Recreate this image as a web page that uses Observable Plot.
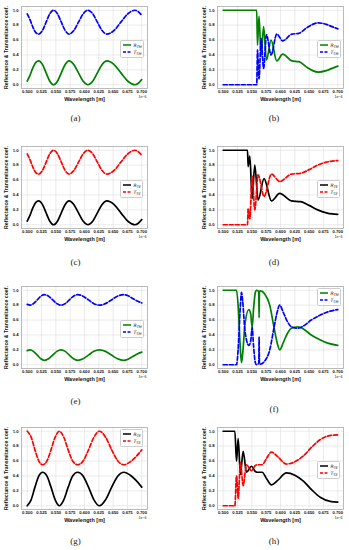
<!DOCTYPE html>
<html>
<head>
<meta charset="utf-8">
<script src="https://cdn.jsdelivr.net/npm/d3@7"></script>
<script src="https://cdn.jsdelivr.net/npm/@observablehq/plot@0.6"></script>
<style>
  body { margin: 0; background: #fff; }
  #fig { position: relative; width: 349px; height: 550px; overflow: hidden; background: #fff; }
  .panel { position: absolute; }
  .panel svg { display: block; overflow: visible; }
  .panel g[aria-label="x-axis tick label"], .panel g[aria-label="y-axis tick label"] { font-size: 4.2px; font-weight: bold; }
  .panel g[aria-label="x-axis label"] { font-size: 5.5px; font-weight: bold; }
  .panel g[aria-label="y-axis label"] { font-size: 5.2px; font-weight: bold; }
  .legend { position: absolute; background: rgba(255,255,255,0.9); border: 0.6px solid #ccc; border-radius: 1.5px;
            padding: 1px 1.5px; font-family: "DejaVu Sans", sans-serif; font-size: 4.6px; line-height: 7px; }
  .legend .row { display: flex; align-items: center; height: 7px; white-space: nowrap; }
  .legend svg { margin-right: 3px; }
  .legend i { font-style: italic; }
  .legend sub { font-size: 3.4px; font-style: italic; vertical-align: -1px; line-height: 0; }
  .lab { position: absolute; transform: translate(-50%, -50%); font-family: "Liberation Serif", "DejaVu Serif", serif; font-size: 9px; color: #222; }
</style>
</head>
<body>
<div id="fig"></div>
<script>
// ---- tick labels ----
const xTicks = [0.500, 0.525, 0.550, 0.575, 0.600, 0.625, 0.650, 0.675, 0.700];
const yTicks = [0.0, 0.2, 0.4, 0.6, 0.8, 1.0];

// ---- (a) TM, thin film ----
const xA = [0.500,0.505,0.510,0.515,0.520,0.5265,0.533,0.5395,0.546,0.5528,0.5595,0.5663,0.573,0.5813,0.5895,0.5978,0.606,0.6143,0.6225,0.6308,0.639,0.6513,0.6635,0.6758,0.688,0.694,0.700];
const rA = [0.05,0.13,0.23,0.30,0.32,0.273,0.16,0.047,0.0,0.047,0.16,0.273,0.32,0.273,0.16,0.047,0.0,0.047,0.16,0.273,0.32,0.273,0.16,0.047,0.0,0.02,0.07];
const tA = [0.95,0.87,0.77,0.70,0.68,0.727,0.84,0.953,1.0,0.953,0.84,0.727,0.68,0.727,0.84,0.953,1.0,0.953,0.84,0.727,0.68,0.727,0.84,0.953,1.0,0.98,0.93];

// ---- (b) TM ----
const xB = [0.500,0.5585,0.5598,0.5625,0.5662,0.5705,0.5755,0.5835,0.5935,0.6038,0.6200,0.6320,0.6450,0.6560,0.6660,0.6800,0.6900,0.7000];
const rB = [1.00,1.00,0.53,0.92,0.38,0.78,0.33,0.60,0.32,0.41,0.32,0.31,0.24,0.19,0.17,0.19,0.22,0.25];
const tB = [0.00,0.00,0.47,0.08,0.62,0.22,0.67,0.40,0.68,0.59,0.68,0.69,0.76,0.81,0.83,0.81,0.78,0.75];

// ---- (c) TE ----
const xC = [0.500,0.505,0.510,0.515,0.520,0.5265,0.533,0.5395,0.546,0.5528,0.5595,0.5663,0.573,0.5813,0.5895,0.5978,0.606,0.6143,0.6225,0.6308,0.639,0.6513,0.6635,0.6758,0.688,0.694,0.700];
const rC = [0.05,0.13,0.23,0.30,0.32,0.273,0.16,0.047,0.0,0.047,0.16,0.273,0.32,0.273,0.16,0.047,0.0,0.047,0.16,0.273,0.32,0.273,0.16,0.047,0.0,0.02,0.07];
const tC = [0.95,0.87,0.77,0.70,0.68,0.727,0.84,0.953,1.0,0.953,0.84,0.727,0.68,0.727,0.84,0.953,1.0,0.953,0.84,0.727,0.68,0.727,0.84,0.953,1.0,0.98,0.93];

// ---- (d) TE ----
const xD = [0.500,0.5424,0.5435,0.5464,0.5505,0.5551,0.5609,0.5713,0.5842,0.5986,0.6190,0.6350,0.6500,0.6650,0.6800,0.6900,0.7000];
const rD = [1.00,1.00,0.78,0.92,0.35,0.80,0.33,0.62,0.32,0.42,0.32,0.31,0.26,0.20,0.16,0.145,0.14];
const tD = [0.00,0.00,0.22,0.08,0.65,0.20,0.67,0.38,0.68,0.58,0.68,0.69,0.74,0.80,0.84,0.855,0.86];

// ---- (e) TM ----
const xE = [0.500,0.505,0.5108,0.5175,0.5238,0.530,0.5373,0.5445,0.5518,0.559,0.5663,0.5735,0.5808,0.588,0.5975,0.607,0.6165,0.626,0.6365,0.647,0.6575,0.668,0.676,0.684,0.692,0.700];
const rE = [0.19,0.20,0.18,0.13,0.08,0.06,0.08,0.13,0.18,0.20,0.18,0.13,0.08,0.06,0.08,0.13,0.18,0.20,0.18,0.13,0.08,0.06,0.075,0.11,0.145,0.17];
const tE = [0.81,0.80,0.82,0.87,0.92,0.94,0.92,0.87,0.82,0.80,0.82,0.87,0.92,0.94,0.92,0.87,0.82,0.80,0.82,0.87,0.92,0.94,0.925,0.89,0.855,0.83];

// ---- (f) TM ----
const xF = [0.500,0.5232,0.5260,0.5300,0.5319,0.5340,0.5380,0.5447,0.5480,0.5505,0.5530,0.5560,0.5580,0.5610,0.5621,0.5626,0.5632,0.5650,0.5725,0.5812,0.5887,0.5940,0.5986,0.6050,0.6120,0.6190,0.6304,0.6400,0.6537,0.6680,0.6826,0.7000];
const rF = [1.00,1.00,0.80,0.20,0.03,0.15,0.55,0.74,0.68,0.50,0.75,0.97,1.00,0.99,0.98,0.63,0.98,0.99,0.95,0.80,0.50,0.30,0.20,0.30,0.42,0.49,0.51,0.48,0.40,0.34,0.29,0.26];
const tF = [0.00,0.00,0.20,0.80,0.97,0.85,0.45,0.26,0.32,0.50,0.25,0.03,0.00,0.01,0.02,0.37,0.02,0.01,0.05,0.20,0.50,0.70,0.80,0.70,0.58,0.51,0.49,0.52,0.60,0.66,0.71,0.74];

// ---- (g) TE ----
const xG = [0.500,0.5068,0.5135,0.5203,0.527,0.5343,0.5415,0.5488,0.556,0.5638,0.5715,0.5793,0.588,0.5975,0.607,0.6165,0.626,0.6368,0.6475,0.6583,0.669,0.680,0.690,0.700];
const rG = [0.0,0.08,0.25,0.40,0.45,0.40,0.25,0.08,0.0,0.08,0.25,0.40,0.45,0.40,0.25,0.08,0.0,0.08,0.25,0.40,0.45,0.41,0.34,0.25];
const tG = [1.0,0.92,0.75,0.60,0.55,0.60,0.75,0.92,1.0,0.92,0.75,0.60,0.55,0.60,0.75,0.92,1.0,0.92,0.75,0.60,0.55,0.59,0.66,0.75];

// ---- (h) TE ----
const xH = [0.500,0.5203,0.5232,0.5261,0.5300,0.5348,0.5406,0.5493,0.5560,0.5600,0.5678,0.5760,0.5842,0.5950,0.6102,0.6250,0.6400,0.6550,0.6700,0.6885,0.7000];
const rH = [1.00,1.00,0.60,0.90,0.42,0.73,0.45,0.53,0.46,0.45,0.45,0.36,0.28,0.34,0.44,0.41,0.33,0.21,0.11,0.055,0.05];
const tH = [0.00,0.00,0.40,0.10,0.58,0.27,0.55,0.47,0.54,0.55,0.55,0.64,0.72,0.66,0.56,0.59,0.67,0.79,0.89,0.945,0.95];

const GREEN = "#008000", BLUE = "#0000ff", RED = "#ff0000", BLACK = "#000000";
const rowTops = [0, 140, 280, 421];

const panels = [
  {x: xA, r: rA, t: tA, col: 0, row: 0, rc: GREEN, tc: BLUE, sub: "TM", leg: "center", tag: "(a)", ty: 118},
  {x: xB, r: rB, t: tB, col: 1, row: 0, rc: GREEN, tc: BLUE, sub: "TM", leg: "center", tag: "(b)", ty: 118},
  {x: xC, r: rC, t: tC, col: 0, row: 1, rc: BLACK, tc: RED, sub: "TE", leg: "center", tag: "(c)", ty: 122},
  {x: xD, r: rD, t: tD, col: 1, row: 1, rc: BLACK, tc: RED, sub: "TE", leg: "center", tag: "(d)", ty: 122},
  {x: xE, r: rE, t: tE, col: 0, row: 2, rc: GREEN, tc: BLUE, sub: "TM", leg: "center", tag: "(e)", ty: 121},
  {x: xF, r: rF, t: tF, col: 1, row: 2, rc: GREEN, tc: BLUE, sub: "TM", leg: "top", tag: "(f)", ty: 129},
  {x: xG, r: rG, t: tG, col: 0, row: 3, rc: BLACK, tc: RED, sub: "TE", leg: "top", tag: "(g)", ty: 120},
  {x: xH, r: rH, t: tH, col: 1, row: 3, rc: BLACK, tc: RED, sub: "TE", leg: "center", tag: "(h)", ty: 120}
];

const fig = document.getElementById("fig");

for (const p of panels) {
  const data = p.x.map((x, i) => ({x, r: p.r[i], t: p.t[i]}));
  const c2 = p.col === 1;
  const W = c2 ? 174 : 175, mL = c2 ? 42 : 21, mR = c2 ? 6 : 28;
  const left = c2 ? 175 : 0, top = rowTops[p.row];
  const svg = Plot.plot({
    width: W, height: 106,
    marginLeft: mL, marginRight: mR, marginTop: 6, marginBottom: 18,
    style: {fontFamily: "'Liberation Sans', Arial, sans-serif", background: "transparent", overflow: "visible", color: "#111"},
    x: {domain: [0.49, 0.71]},
    y: {domain: [-0.05, 1.05]},
    marks: [
      Plot.gridX(xTicks, {stroke: "#dddddd", strokeOpacity: 1, strokeWidth: 0.6}),
      Plot.gridY(yTicks, {stroke: "#dddddd", strokeOpacity: 1, strokeWidth: 0.6}),
      Plot.frame({stroke: "#aaaaaa", strokeWidth: 0.8}),
      Plot.axisX(xTicks, {tickSize: 0, tickPadding: 1.5, tickFormat: d3.format(".3f"),
        label: "Wavelength [m]", labelAnchor: "center", labelArrow: "none", labelOffset: 12.3}),
      Plot.axisY(yTicks, {tickSize: 0, tickPadding: 3, tickFormat: d3.format(".1f"),
        label: "Reflectance & Transmitance coef.", labelAnchor: "center", labelArrow: "none", labelOffset: c2 ? 15.6 : 17}),
      Plot.line(data, {x: "x", y: "r", stroke: p.rc, strokeWidth: 1.7, curve: "monotone-x"}),
      Plot.line(data, {x: "x", y: "t", stroke: p.tc, strokeWidth: 1.7, strokeDasharray: "4,2", curve: "monotone-x"}),
      Plot.text(["1e\u22126"], {text: d => d, frameAnchor: "bottom-right", textAnchor: "end", lineAnchor: "top",
        dy: 6.5, dx: -1, fontSize: 3.6, fill: "#222"})
    ]
  });
  const wrap = document.createElement("div");
  wrap.className = "panel";
  wrap.style.left = left + "px";
  wrap.style.top = top + "px";
  wrap.style.width = W + "px";
  wrap.appendChild(svg);

  const lg = document.createElement("div");
  lg.className = "legend";
  lg.style.left = (c2 ? 142 : 120) + "px";
  lg.style.top = (p.leg === "top" ? 7.5 : 39.5) + "px";
  const sample = (color, dash) =>
    `<svg width="8" height="4"><line x1="0" x2="8" y1="2" y2="2" stroke="${color}" stroke-width="1.5" ${dash ? 'stroke-dasharray="3,1.5"' : ""}/></svg>`;
  lg.innerHTML =
    `<div class="row">${sample(p.rc, false)}<span><i>R</i><sub>${p.sub}</sub></span></div>` +
    `<div class="row">${sample(p.tc, true)}<span><i>T</i><sub>${p.sub}</sub></span></div>`;
  wrap.appendChild(lg);
  fig.appendChild(wrap);

  const lab = document.createElement("div");
  lab.className = "lab";
  lab.textContent = p.tag;
  lab.style.left = (c2 ? 274 : 75.5) + "px";
  lab.style.top = (top + p.ty) + "px";
  fig.appendChild(lab);
}
</script>
</body>
</html>
